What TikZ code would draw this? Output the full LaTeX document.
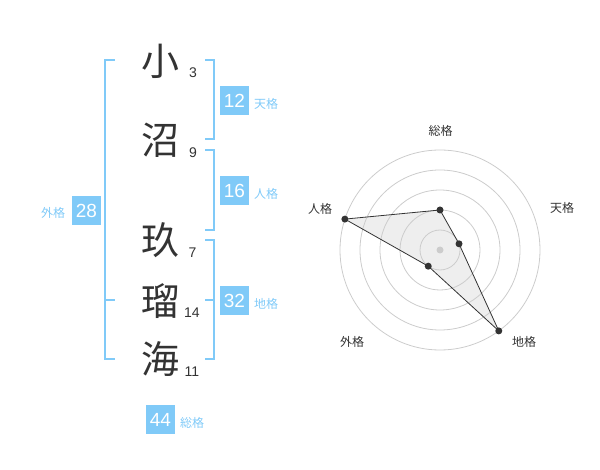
\documentclass[tikz,border=0pt]{standalone}
\usepackage{fontspec}
\setmainfont{Liberation Sans}
\newfontfamily\jp{Noto Sans CJK JP}
\definecolor{kblue}{RGB}{128,202,248}
\definecolor{ktext}{RGB}{51,51,51}
\definecolor{kgrid}{RGB}{204,204,204}
\definecolor{kfill}{RGB}{238,238,238}
\begin{document}
\begin{tikzpicture}[x=1pt,y=-1pt,
  kanji/.style={font=\jp\fontsize{38}{38}\selectfont, text=ktext, inner sep=0},
  strokes/.style={font=\fontsize{14}{14}\selectfont, text=ktext, inner sep=0},
  numbox/.style={fill=kblue, text=white, minimum width=29pt, minimum height=29pt, inner sep=0, font=\fontsize{19}{19}\selectfont},
  kakulabel/.style={font=\jp\fontsize{12}{12}\selectfont, text=kblue, inner sep=0, anchor=west},
  bracket/.style={draw=kblue, line width=2pt},
  grid/.style={draw=kgrid, line width=0.8pt},
  axislabel/.style={font=\jp\fontsize{12}{12}\selectfont, text=ktext, inner sep=0},
  dot/.style={circle, fill=ktext, inner sep=0, minimum size=7pt},
  polyfill/.style={fill=kfill},
  polyline/.style={draw=ktext, line width=0.8pt}
]
\useasboundingbox (0,0) rectangle (600,470);
% kanji
\node[kanji] (k1) at (160,61) {小};
\node[kanji] (k2) at (160,140) {沼};
\node[kanji] (k3) at (160,240) {玖};
\node[kanji] (k4) at (160,301) {瑠};
\node[kanji] (k5) at (160,359) {海};
% stroke counts
\node[strokes] (s1) at (193,73) {3};
\node[strokes] (s2) at (193,153) {9};
\node[strokes] (s3) at (192.5,252.5) {7};
\node[strokes] (s4) at (192,312.5) {14};
\node[strokes] (s5) at (192,372) {11};
% brackets
\draw[bracket] (115,60) -- (105,60) -- (105,359) -- (115,359);
\draw[bracket] (105,300) -- (115,300);
\draw[bracket] (205,60) -- (214,60) -- (214,139) -- (205,139);
\draw[bracket] (205,150) -- (214,150) -- (214,230) -- (205,230);
\draw[bracket] (205,240) -- (214,240) -- (214,359) -- (205,359);
\draw[bracket] (205,300) -- (214,300);
% boxes
\node[numbox] (ten) at (234.5,100.5) {12};
\node[kakulabel] (tenl) at (254,103.5) {天格};
\node[numbox] (jin) at (234.5,190.5) {16};
\node[kakulabel] (jinl) at (254,193.5) {人格};
\node[numbox] (chi) at (234.5,300.5) {32};
\node[kakulabel] (chil) at (254,303.5) {地格};
\node[numbox] (gai) at (86.5,210.5) {28};
\node[kakulabel] (gail) at (41,213) {外格};
\node[numbox] (sou) at (160.5,419.5) {44};
\node[kakulabel] (soul) at (180,422.5) {総格};
% radar
\coordinate (c) at (440,250);
\coordinate (psou) at (440,210);
\coordinate (pten) at (459.02,243.82);
\coordinate (pchi) at (498.78,330.90);
\coordinate (pgai) at (428.24,266.18);
\coordinate (pjin) at (344.89,219.10);
\fill[polyfill] (psou) -- (pten) -- (pchi) -- (pgai) -- (pjin) -- cycle;
\foreach \r in {20,40,60,80,100} \draw[grid] (c) circle[radius=\r];
\fill[kgrid] (c) circle[radius=3.5];
\draw[polyline] (psou) -- (pten) -- (pchi) -- (pgai) -- (pjin) -- cycle;
\foreach \p in {psou,pten,pchi,pgai,pjin} \node[dot] (d\p) at (\p) {};
\node[axislabel] (lsou) at (440.7,130.7) {総格};
\node[axislabel] (lten) at (562,208) {天格};
\node[axislabel] (lchi) at (524,342) {地格};
\node[axislabel] (lgai) at (352,342) {外格};
\node[axislabel] (ljin) at (320,209) {人格};
\end{tikzpicture}
\end{document}
